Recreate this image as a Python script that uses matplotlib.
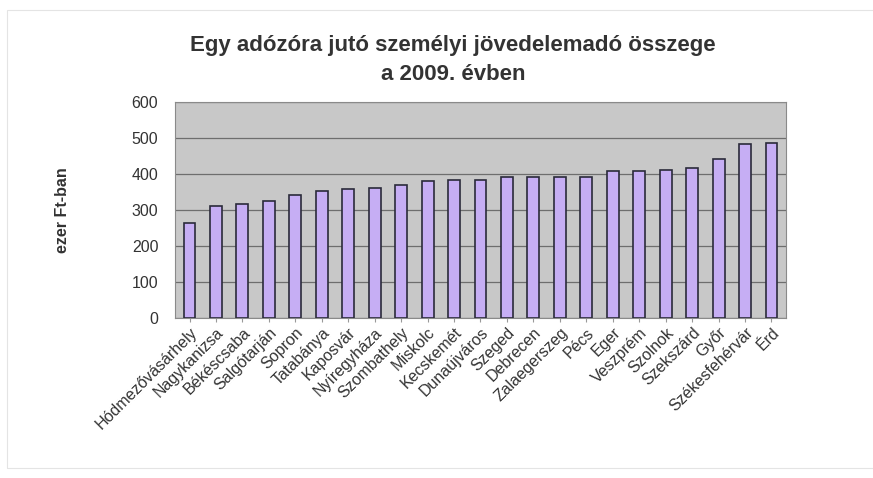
import matplotlib.pyplot as plt
from matplotlib.patches import Rectangle

# Adatok: egy adózóra jutó SZJA, ezer Ft, 2009
varosok = ["Hódmezővásárhely", "Nagykanizsa", "Békéscsaba", "Salgótarján",
           "Sopron", "Tatabánya", "Kaposvár", "Nyíregyháza", "Szombathely",
           "Miskolc", "Kecskemét", "Dunaújváros", "Szeged", "Debrecen",
           "Zalaegerszeg", "Pécs", "Eger", "Veszprém", "Szolnok", "Szekszárd",
           "Győr", "Székesfehérvár", "Érd"]
ertekek = [265, 311, 318, 324, 341, 354, 357, 362, 369, 380, 384, 384,
           391, 391, 391, 391, 408, 408, 412, 416, 441, 484, 487]
y_ticks = [0, 100, 200, 300, 400, 500, 600]

plt.rcParams['font.family'] = ['Liberation Sans', 'DejaVu Sans']

fig = plt.figure(figsize=(8.73, 4.78), dpi=100)
ax = fig.add_axes([175 / 873, 1 - 318 / 478, 611 / 873, 216 / 478])

x = range(len(varosok))
ax.bar(x, ertekek, width=0.45, color='#c6aef4', edgecolor='#2a2a3a',
       linewidth=1.2, zorder=3)

ax.set_facecolor('#c8c8c8')
ax.set_xlim(-0.55, len(varosok) - 0.45)
ax.set_ylim(0, 600)
ax.set_yticks(y_ticks)
ax.yaxis.grid(True, color='#6e6e6e', linewidth=0.9, zorder=1)
ax.tick_params(axis='y', length=0, labelsize=11.5, pad=12, colors='#333333')
ax.tick_params(axis='x', length=3, color='#999999', labelsize=11.5,
               colors='#333333', pad=2)
ax.set_xticks(x)
ax.set_xticklabels(varosok, rotation=45, ha='right', rotation_mode='anchor')
for s in ax.spines.values():
    s.set_color('#8a8a8a')
    s.set_linewidth(0.8)

ax.set_ylabel("ezer Ft-ban", fontsize=11.5, fontweight='bold', labelpad=44,
              color='#333333')

fig.text(453 / 873, 1 - 45 / 478, "Egy adózóra jutó személyi jövedelemadó összege",
         ha='center', va='center', fontsize=16, fontweight='bold', color='#333333')
fig.text(453 / 873, 1 - 74 / 478, "a 2009. évben",
         ha='center', va='center', fontsize=16, fontweight='bold', color='#333333')

# halvány keret a diagram körül
fig.patches.append(Rectangle((7 / 873, 0.02), 1.2, 1 - 10 / 478 - 0.02,
                             transform=fig.transFigure, fill=False,
                             edgecolor='#e4e4e4', linewidth=0.8))

plt.savefig("out.png", dpi=100)
plt.close()
